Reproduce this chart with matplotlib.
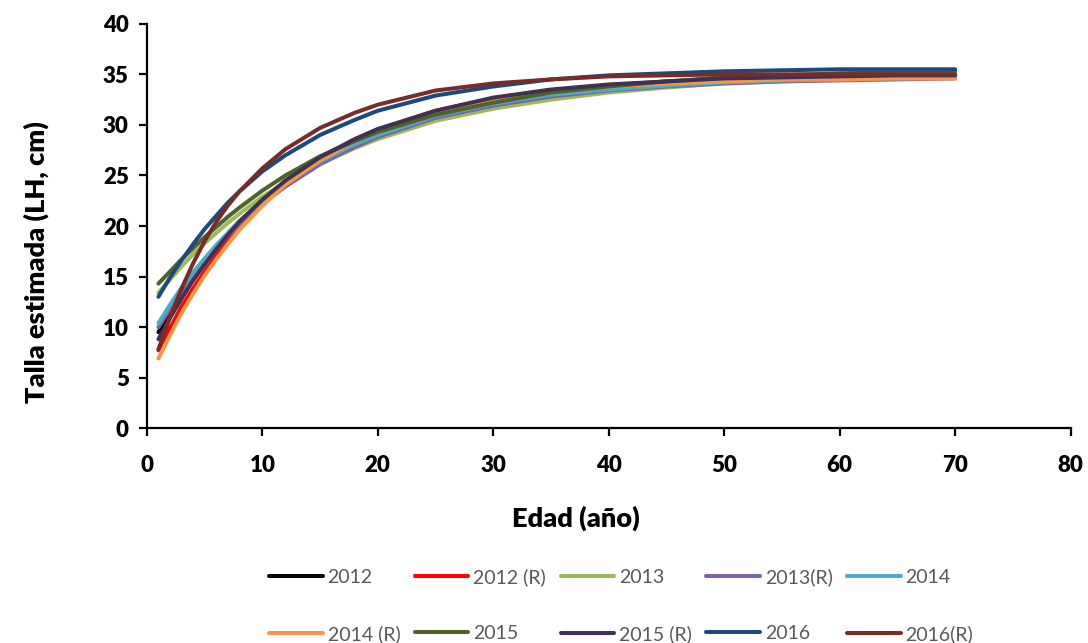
import matplotlib
matplotlib.use("Agg")
import matplotlib.pyplot as plt
from matplotlib.ticker import MultipleLocator

plt.rcParams["font.family"] = ["Lato", "DejaVu Sans"]

# ages (years)
ages = [1, 2, 3, 4, 5, 6, 7, 8, 10, 12, 15, 18, 20, 25, 30, 35, 40, 45, 50, 55, 60, 65, 70]

# estimated length (LH, cm) at each age
talla_2012 = [9.5, 11.5, 13.2, 14.9, 16.4, 17.8, 19.1, 20.3, 22.4, 24.2, 26.5, 28.2, 29.2, 31.0, 32.3, 33.2, 33.8, 34.2, 34.4, 34.6, 34.7, 34.8, 34.9]
talla_2012_r = [7.7, 9.9, 12.0, 13.8, 15.5, 17.1, 18.6, 19.9, 22.2, 24.2, 26.6, 28.5, 29.5, 31.4, 32.6, 33.4, 33.9, 34.3, 34.5, 34.6, 34.7, 34.8, 34.8]
talla_2013 = [13.4, 14.7, 16.0, 17.2, 18.3, 19.3, 20.3, 21.2, 22.9, 24.3, 26.2, 27.7, 28.6, 30.4, 31.6, 32.5, 33.2, 33.7, 34.1, 34.3, 34.5, 34.6, 34.7]
talla_2013_r = [10.0, 11.8, 13.4, 15.0, 16.4, 17.7, 19.0, 20.1, 22.2, 23.9, 26.1, 27.8, 28.8, 30.7, 31.9, 32.8, 33.4, 33.8, 34.1, 34.3, 34.4, 34.5, 34.6]
talla_2014 = [10.4, 12.2, 13.9, 15.4, 16.8, 18.1, 19.3, 20.5, 22.5, 24.2, 26.4, 28.1, 29.0, 30.9, 32.1, 33.0, 33.5, 33.9, 34.2, 34.4, 34.5, 34.6, 34.7]
talla_2014_r = [6.9, 9.2, 11.4, 13.3, 15.1, 16.7, 18.2, 19.6, 22.0, 24.1, 26.5, 28.4, 29.4, 31.3, 32.5, 33.3, 33.8, 34.1, 34.3, 34.5, 34.5, 34.6, 34.6]
talla_2015 = [14.3, 15.5, 16.7, 17.8, 18.9, 19.9, 20.9, 21.8, 23.5, 25.0, 26.9, 28.4, 29.3, 31.0, 32.2, 33.2, 33.8, 34.3, 34.7, 34.9, 35.1, 35.2, 35.3]
talla_2015_r = [8.8, 10.9, 12.8, 14.6, 16.2, 17.7, 19.1, 20.4, 22.6, 24.5, 26.8, 28.6, 29.6, 31.4, 32.7, 33.5, 34.0, 34.3, 34.6, 34.7, 34.8, 34.9, 34.9]
talla_2016 = [13.0, 14.9, 16.6, 18.2, 19.7, 21.0, 22.3, 23.4, 25.4, 27.0, 29.0, 30.5, 31.4, 32.9, 33.8, 34.5, 34.9, 35.1, 35.3, 35.4, 35.5, 35.5, 35.5]
talla_2016_r = [7.8, 11.0, 13.8, 16.3, 18.5, 20.4, 22.0, 23.4, 25.7, 27.6, 29.7, 31.2, 32.0, 33.4, 34.1, 34.5, 34.8, 34.9, 35.0, 35.0, 35.0, 35.0, 35.0]

labels = ["2012", "2012 (R)", "2013", "2013(R)", "2014",
          "2014 (R)", "2015", "2015 (R)", "2016", "2016(R)"]
colors = ["#000000", "#FF0000", "#9BBB59", "#8064A2", "#4BACC6",
          "#F79646", "#4F6228", "#403152", "#1F497D", "#772C2A"]
values = [talla_2012, talla_2012_r, talla_2013, talla_2013_r, talla_2014,
          talla_2014_r, talla_2015, talla_2015_r, talla_2016, talla_2016_r]

fig = plt.figure(figsize=(10.88, 6.43), dpi=100)
ax = fig.add_axes([0.135, 0.334, 0.849, 0.629])

handles = []
for lab, col, vals in zip(labels, colors, values):
    line, = ax.plot(ages, vals, color=col, linewidth=2.9, label=lab,
                    solid_capstyle="round", solid_joinstyle="round")
    handles.append(line)

ax.set_xlim(0, 80)
ax.set_ylim(0, 40)
ax.xaxis.set_major_locator(MultipleLocator(10))
ax.yaxis.set_major_locator(MultipleLocator(5))

for side in ("top", "right"):
    ax.spines[side].set_visible(False)
for side in ("left", "bottom"):
    ax.spines[side].set_linewidth(1.6)
    ax.spines[side].set_color("black")

ax.tick_params(axis="both", direction="out", length=6, width=1.6,
               labelsize=16)
ax.tick_params(axis="x", pad=13)
ax.tick_params(axis="y", pad=7)
for lbl in ax.get_xticklabels() + ax.get_yticklabels():
    lbl.set_fontweight("heavy")

ax.set_xlabel("Edad (año)", fontsize=19.5, fontweight="heavy")
ax.set_ylabel("Talla estimada (LH, cm)", fontsize=19.5, fontweight="heavy")
ax.xaxis.set_label_coords((576 - 147) / 924, -0.192)
ax.yaxis.set_label_coords(-0.106, 0.41)

# legend fills column by column, so reorder to read row by row
order = [0, 5, 1, 6, 2, 7, 3, 8, 4, 9]
fig.legend([handles[i] for i in order], [labels[i] for i in order],
           ncol=5, loc="center", bbox_to_anchor=(0.571, 0.058),
           frameon=False, fontsize=14, labelcolor="#595959",
           handlelength=2.75, handletextpad=0.25, columnspacing=0.75,
           labelspacing=2.0)

fig.savefig("out.png", dpi=100)
